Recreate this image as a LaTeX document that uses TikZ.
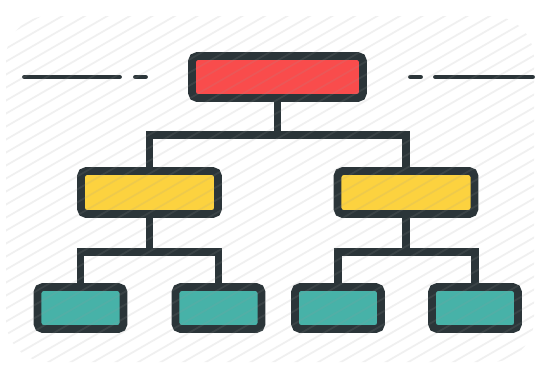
\documentclass[tikz,border=0pt]{standalone}
\usepackage{tikz}
\usetikzlibrary{positioning,calc}
\definecolor{ink}{HTML}{2B3539}
\definecolor{boxred}{HTML}{F94C4C}
\definecolor{boxyellow}{HTML}{FCD23F}
\definecolor{boxteal}{HTML}{47B2A8}
\definecolor{hatchgray}{HTML}{9A9A9A}
\tikzset{
  box/.style={draw=ink, line width=4.5pt, rounded corners=3pt, inner sep=0pt, outer sep=0pt},
  rootbox/.style={box, fill=boxred, minimum width=3.42cm, minimum height=0.84cm},
  midbox/.style={box, fill=boxyellow, minimum width=2.74cm, minimum height=0.86cm},
  leafbox/.style={box, fill=boxteal, minimum width=1.72cm, minimum height=0.84cm},
  link/.style={draw=ink, line width=4pt, line join=miter},
  dashbar/.style={draw=ink, line width=2.8pt, line cap=round}
}

\begin{document}
\begin{tikzpicture}[x=0.02cm, y=-0.02cm]
    \useasboundingbox (0,0) rectangle (540,370);
    \fill[white] (0,0) rectangle (540,370);

    % Boxes
    \node[rootbox] (root) at (277.5,77) {};
    \node[midbox] (midL) at (149.5,192.5) {};
    \node[midbox] (midR) at (406,192.5) {};
    \foreach \x/\n in {80.5/leafA, 218.5/leafB, 338/leafC, 475/leafD}
        \node[leafbox] (\n) at (\x,308) {};

    % Links
    \draw[link] (root.south) -- ++(0,37) -| (midL.north);
    \draw[link] (root.south) ++(0,37) -| (midR.north);
    \draw[link] (midL.south) -- ++(0,38) -| (leafA.north);
    \draw[link] (midL.south) ++(0,38) -| (leafB.north);
    \draw[link] (midR.south) -- ++(0,38) -| (leafC.north);
    \draw[link] (midR.south) ++(0,38) -| (leafD.north);

    % Side dashes
    \draw[dashbar] (24.5,77) -- (119.5,77);
    \draw[dashbar] (135.5,77) -- (145.5,77);
    \draw[dashbar] (410.5,77) -- (420.5,77);
    \draw[dashbar] (435.5,77) -- (532.5,77);

    % Hatching
    \begin{scope}
        \clip[rounded corners=24pt] (6,16) rectangle (534,362);
        \foreach \k in {0,...,54}
            \draw[hatchgray, line width=1pt, opacity=0.14] (0,\k*13) -- (540,\k*13-312);
    \end{scope}
\end{tikzpicture}
\end{document}
